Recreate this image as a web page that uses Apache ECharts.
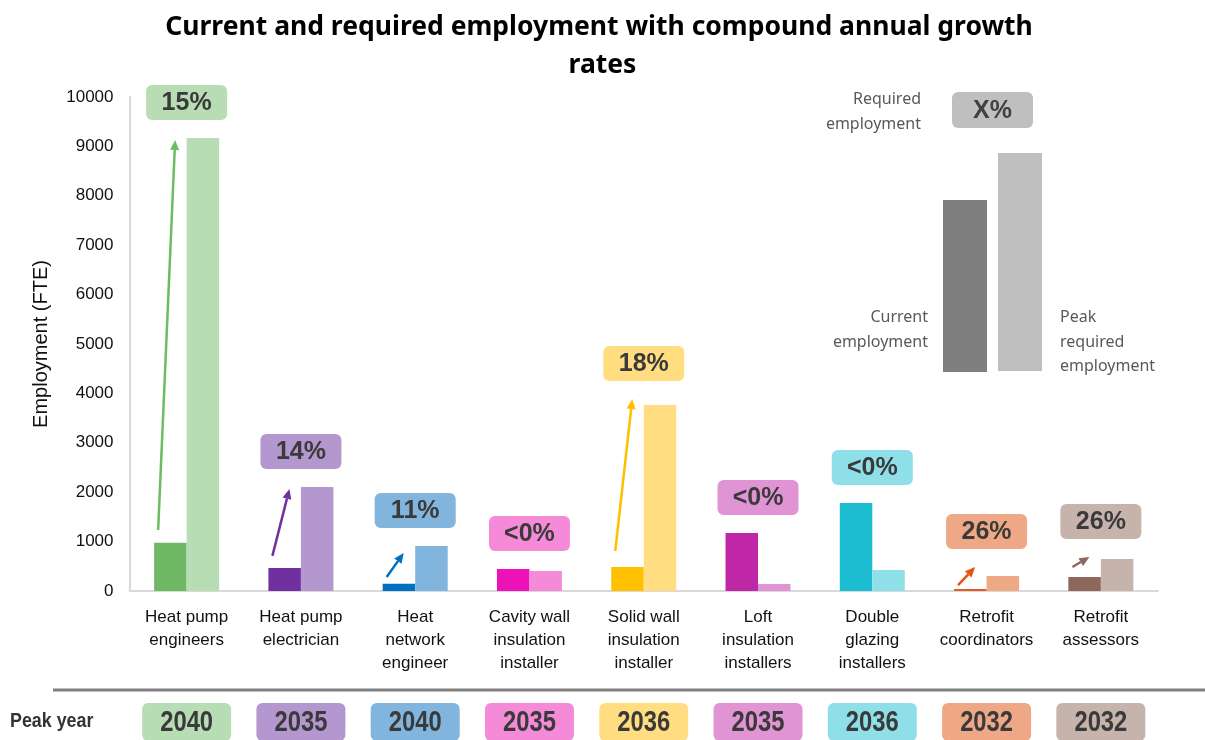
<!DOCTYPE html>
<html>
<head>
<meta charset="utf-8">
<script src="https://cdn.jsdelivr.net/npm/echarts@6/dist/echarts.min.js"></script>
<style>html,body{margin:0;padding:0;background:#fff;}#chart{width:1205px;height:740px;}</style>
</head>
<body>
<div id="chart"></div>
<script>
// ---- data ----
const categories = ['Heat pump\nengineers', 'Heat pump\nelectrician', 'Heat\nnetwork\nengineer', 'Cavity wall\ninsulation\ninstaller', 'Solid wall\ninsulation\ninstaller', 'Loft\ninsulation\ninstallers', 'Double\nglazing\ninstallers', 'Retrofit\ncoordinators', 'Retrofit\nassessors'];
const currentEmployment = [975, 465, 145, 445, 485, 1175, 1780, 40, 285];
const peakRequiredEmployment = [9170, 2105, 910, 405, 3765, 140, 425, 305, 650];
const growthRates = ['15%', '14%', '11%', '<0%', '18%', '<0%', '<0%', '26%', '26%'];
const peakYears = ['2040', '2035', '2040', '2035', '2036', '2035', '2036', '2032', '2032'];
const arrowFrom = [1235, 710, 285, null, 810, null, null, 120, 485];
const arrowTo = [9130, 2065, 770, null, 3885, null, null, 485, 690];
const yMin = 0, yMax = 10000, yStep = 1000;

// ---- styles ----
const currentColors = ['#70b865', '#7030a0', '#0070c0', '#ec12b8', '#ffc000', '#c027a7', '#1cbdd0', '#e05c24', '#8d675c'];
const requiredColors = ['#b8ddb4', '#b597cf', '#82b5de', '#f58ad9', '#ffdd80', '#e094d3', '#8fdfe8', '#eea886', '#c6b3ac'];
const arrowColors = ['#6dbb63', '#7030a0', '#0070c0', '#ec12b8', '#ffc000', '#c027a7', '#1cbdd0', '#e35512', '#8d675c'];
const BAR_W = 32.5;

const chart = echarts.init(document.getElementById('chart'), null, {renderer: 'canvas'});

const arrowData = [];
categories.forEach((c, i) => { if (arrowFrom[i] != null) arrowData.push([i, arrowFrom[i], arrowTo[i]]); });
const rateData = categories.map((c, i) => [i, Math.max(currentEmployment[i], peakRequiredEmployment[i], arrowTo[i] || 0)]);
const yearData = categories.map((c, i) => [i, 0]);

const option = {
  backgroundColor: '#ffffff',
  animation: false,
  title: {
    text: 'Current and required employment with compound annual growth rates',
    left: 'center',
    top: 3,
    padding: [5, 19, 5, 5],
    textStyle: {
      fontFamily: 'Noto Sans', fontWeight: 700, fontSize: 26.5, color: '#000',
      width: 900, overflow: 'break', lineHeight: 38
    }
  },
  grid: {left: 129.5, right: 47, top: 97, bottom: 149},
  xAxis: {
    type: 'category',
    data: categories,
    axisLine: {show: true, lineStyle: {color: '#d9d9d9', width: 2}},
    axisTick: {show: false},
    axisLabel: {
      interval: 0, margin: 15, fontFamily: 'Liberation Sans, Arial', fontSize: 17,
      color: '#111', lineHeight: 23
    }
  },
  yAxis: {
    type: 'value',
    min: yMin, max: yMax, interval: yStep,
    name: 'Employment (FTE)',
    nameLocation: 'middle',
    nameGap: 78,
    nameTextStyle: {fontFamily: 'Liberation Sans, Arial', fontSize: 20, color: '#111'},
    axisLine: {show: true, lineStyle: {color: '#d9d9d9', width: 2}},
    axisTick: {show: false},
    splitLine: {show: false},
    axisLabel: {margin: 16, fontFamily: 'Liberation Sans, Arial', fontSize: 17, color: '#111',
      formatter: v => String(v)}
  },
  series: [
    {
      name: 'Current employment', type: 'bar', data: currentEmployment,
      barWidth: BAR_W, barGap: '0%',
      itemStyle: {color: p => currentColors[p.dataIndex]}
    },
    {
      name: 'Peak required employment', type: 'bar', data: peakRequiredEmployment,
      barWidth: BAR_W, barGap: '0%',
      itemStyle: {color: p => requiredColors[p.dataIndex]}
    },
    {
      name: 'Growth arrows', type: 'custom', data: arrowData, z: 5,
      encode: {x: 0, y: [1, 2]},
      renderItem: function (params, api) {
        const i = api.value(0);
        const cx = api.coord([i, 0])[0];
        const s = api.coord([i, api.value(1)]);
        const e = api.coord([i, api.value(2)]);
        const x0 = cx - BAR_W + 4, y0 = s[1];
        const x1 = cx - BAR_W + 21, y1 = e[1];
        const dx = x1 - x0, dy = y1 - y0;
        const len = Math.sqrt(dx * dx + dy * dy);
        const ux = dx / len, uy = dy / len;
        const hl = 10, hw = 4.5;
        const bx = x1 - ux * hl, by = y1 - uy * hl;
        const col = arrowColors[i];
        return {
          type: 'group',
          children: [
            {type: 'line', shape: {x1: x0, y1: y0, x2: bx, y2: by}, style: {stroke: col, lineWidth: 2.5}},
            {type: 'polygon', shape: {points: [[x1, y1], [bx - uy * hw, by + ux * hw], [bx + uy * hw, by - ux * hw]]}, style: {fill: col}}
          ]
        };
      }
    },
    {
      name: 'Growth rates', type: 'custom', data: rateData, z: 6,
      encode: {x: 0, y: 1},
      renderItem: function (params, api) {
        const i = api.value(0);
        const p = api.coord([i, api.value(1)]);
        const w = 81, h = 35, gap = 18;
        const top = p[1] - gap - h;
        return {
          type: 'group',
          children: [
            {type: 'rect', shape: {x: p[0] - w / 2, y: top, width: w, height: h, r: 6}, style: {fill: requiredColors[i]}},
            {type: 'text', style: {text: growthRates[i], x: p[0], y: top + h / 2 + 1, align: 'center', verticalAlign: 'middle',
              font: 'bold 25px "Liberation Sans", Arial', fill: '#3a3a3a'}}
          ]
        };
      }
    },
    {
      name: 'Peak years', type: 'custom', data: yearData, z: 6,
      encode: {x: 0, y: 1},
      renderItem: function (params, api) {
        const i = api.value(0);
        const cx = api.coord([i, 0])[0];
        const w = 89, h = 38, top = 703;
        return {
          type: 'group',
          children: [
            {type: 'rect', shape: {x: cx - w / 2, y: top, width: w, height: h, r: 6}, style: {fill: requiredColors[i]}},
            {type: 'text', x: cx, y: top + h / 2 + 1, scaleX: 0.82,
              style: {text: peakYears[i], x: 0, y: 0, align: 'center', verticalAlign: 'middle',
              font: 'bold 29px "Liberation Sans", Arial', fill: '#3a3a3a'}}
          ]
        };
      }
    }
  ],
  graphic: [
    // peak year separator and label
    {type: 'line', shape: {x1: 53, y1: 690, x2: 1205, y2: 690}, style: {stroke: '#808080', lineWidth: 3}},
    {type: 'text', x: 10, y: 721, scaleX: 0.85,
      style: {text: 'Peak year', x: 0, y: 0, verticalAlign: 'middle',
      font: 'bold 21px "Liberation Sans", Arial', fill: '#333'}},
    // key
    {type: 'rect', shape: {x: 952, y: 92, width: 81, height: 36, r: 6}, style: {fill: '#bfbfbf'}},
    {type: 'text', style: {text: 'X%', x: 992.5, y: 111, align: 'center', verticalAlign: 'middle',
      font: 'bold 25px "Liberation Sans", Arial', fill: '#404040'}},
    {type: 'rect', shape: {x: 943, y: 200, width: 44, height: 172}, style: {fill: '#7f7f7f'}},
    {type: 'rect', shape: {x: 998, y: 153, width: 44, height: 218}, style: {fill: '#bfbfbf'}},
    {type: 'text', style: {text: 'Required\nemployment', x: 921, y: 112, align: 'right', verticalAlign: 'middle',
      font: '16px "Noto Sans"', fill: '#595959', lineHeight: 25}},
    {type: 'text', style: {text: 'Current\nemployment', x: 928, y: 330, align: 'right', verticalAlign: 'middle',
      font: '16px "Noto Sans"', fill: '#595959', lineHeight: 25}},
    {type: 'text', style: {text: 'Peak\nrequired\nemployment', x: 1060, y: 342, align: 'left', verticalAlign: 'middle',
      font: '16px "Noto Sans"', fill: '#595959', lineHeight: 24.5}}
  ]
};
chart.setOption(option);
</script>
</body>
</html>
